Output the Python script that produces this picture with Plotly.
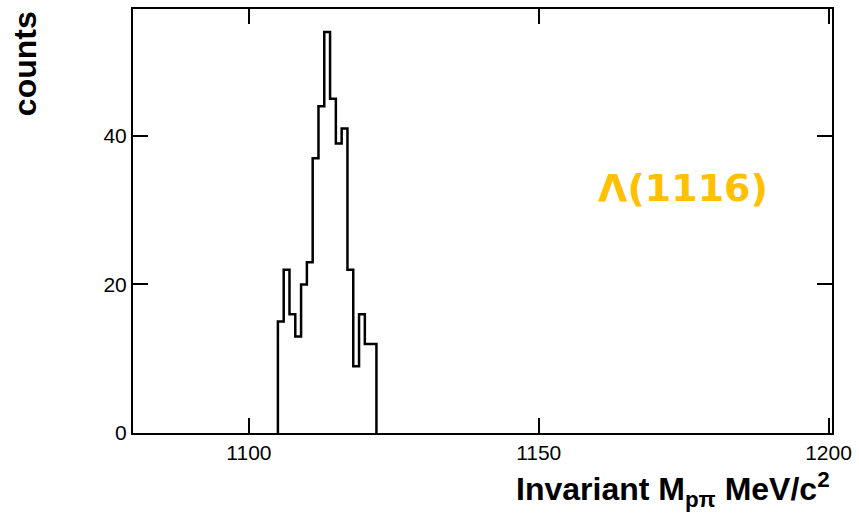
import plotly.graph_objects as go

# Histogram data (1 MeV bins)
bin_edges = [1105, 1106, 1107, 1108, 1109, 1110, 1111, 1112, 1113, 1114,
             1115, 1116, 1117, 1118, 1119, 1120, 1121, 1122]
counts = [15, 22, 16, 13, 20, 23, 37, 44, 54, 45, 39, 41, 22, 9, 16, 12, 12]

x_ticks = [1100, 1150, 1200]
y_ticks = [0, 20, 40]

W, H = 859, 516
L, R, T, B = 133, 27, 9, 83

# step outline built from the bin edges and counts
xs = [bin_edges[0]] + bin_edges[:-1] + [bin_edges[-1]]
ys = [0] + counts + [0]

fig = go.Figure()
fig.add_trace(go.Scatter(x=xs, y=ys, mode="lines", line_shape="hv",
                         line=dict(color="black", width=2.5),
                         hoverinfo="skip", showlegend=False))

axis_common = dict(showgrid=False, zeroline=False, showline=True,
                   linecolor="black", linewidth=2, mirror="ticks",
                   ticks="inside", ticklen=15, tickwidth=2, tickcolor="black",
                   tickfont=dict(family="Liberation Sans, Arial", size=21, color="black"))

fig.update_xaxes(range=[1080, 1200.6], tickvals=x_ticks,
                 ticktext=[str(v) for v in x_ticks], automargin=False, **axis_common)
fig.update_yaxes(range=[0, 57.1], tickvals=y_ticks,
                 ticktext=[str(v) for v in y_ticks], automargin=False, **axis_common)

fig.add_annotation(xref="paper", yref="paper", x=1.0, y=-0.134,
                   xanchor="right", yanchor="middle", showarrow=False,
                   text="<b>Invariant M<sub>pπ</sub> MeV/c<sup>2</sup></b>",
                   font=dict(family="Liberation Sans, Arial", size=32, color="black"))
fig.add_annotation(xref="paper", yref="paper", x=-0.155, y=1.0,
                   xanchor="center", yanchor="top", showarrow=False,
                   textangle=-90, text="<b>counts</b>",
                   font=dict(family="Liberation Sans, Arial", size=32, color="black"))
fig.add_annotation(xref="paper", yref="paper", x=0.787, y=0.577,
                   xanchor="center", yanchor="middle", showarrow=False,
                   text="<b>Λ(1116)</b>",
                   font=dict(family="DejaVu Sans", size=38, color="#FFC000"))

fig.update_layout(width=W, height=H, margin=dict(l=L, r=R, t=T, b=B),
                  paper_bgcolor="white", plot_bgcolor="white")

fig.write_html("out.html", config={"displayModeBar": False},
               post_script="document.body.style.margin='0';")
